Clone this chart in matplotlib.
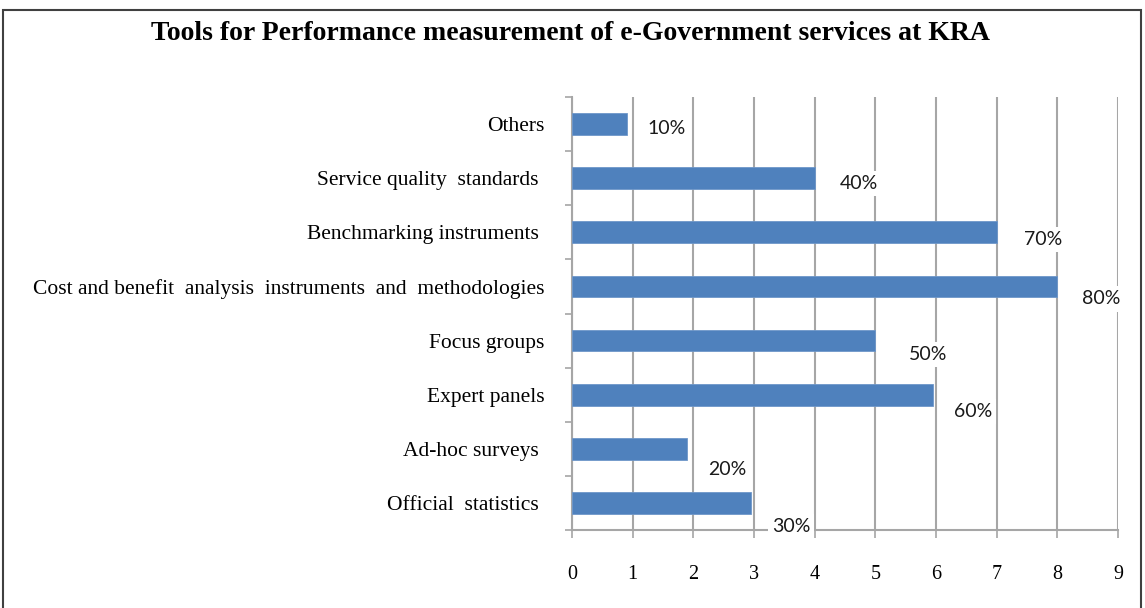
import numpy as np
import matplotlib.pyplot as plt
from matplotlib.patches import Rectangle

# bottom-to-top order
categories = ["Official  statistics ", "Ad-hoc surveys ", "Expert panels", "Focus groups",
              "Cost and benefit  analysis  instruments  and  methodologies",
              "Benchmarking instruments ", "Service quality  standards ", "Others"]
values = [2.95, 1.9, 5.95, 5.0, 8.0, 7.0, 4.0, 0.9]
labels = ["30%", "20%", "60%", "50%", "80%", "70%", "40%", "10%"]
title = "Tools for Performance measurement of e-Government services at KRA"

# label offsets (points) from the bar end, as placed in the original
label_dx = [15, 15, 15, 24, 18, 20, 18, 15]
label_dy = [-17, -15, -12, -10, -9, -5, -4, -3]

grey = "#a6a6a6"
bar_color = "#4f81bd"

fig = plt.figure(figsize=(11.45, 6.08), dpi=100)
ax = fig.add_axes([572 / 1145, 1 - 530 / 608, (1118 - 572) / 1145, (530 - 97) / 608])

y = np.arange(len(categories))
ax.barh(y, values, height=0.4, color=bar_color, edgecolor="#6f97c9", linewidth=0.6, zorder=3)

for yi, v, lab, dx, dy in zip(y, values, labels, label_dx, label_dy):
    ax.annotate(lab, (v, yi), xytext=(dx, dy), textcoords="offset points",
                ha="left", va="center", fontsize=14, family="Lato", color="#1a1a1a",
                bbox=dict(facecolor="white", edgecolor="none", pad=3),
                zorder=6, annotation_clip=False)

ax.set_xlim(0, 9)
ax.set_ylim(-0.5, len(categories) - 0.5)
ax.set_xticks(range(10))
ax.set_xticklabels([str(i) for i in range(10)], family="Liberation Serif", fontsize=14.5)
ax.set_yticks(y)
ax.set_yticklabels(categories, family="Liberation Serif", fontsize=15.5)
ax.set_yticks(np.arange(-0.5, len(categories), 1), minor=True)

ax.tick_params(axis="y", which="major", length=0, pad=20)
ax.tick_params(axis="y", which="minor", length=5, color=grey, width=1.2)
ax.tick_params(axis="x", length=6, color=grey, width=1.2, pad=19)

ax.xaxis.grid(True, color=grey, linewidth=1.5, zorder=1)
ax.set_axisbelow(True)
for s in ["top", "right"]:
    ax.spines[s].set_visible(False)
for s in ["left", "bottom"]:
    ax.spines[s].set_color(grey)
    ax.spines[s].set_linewidth(1.5)

fig.text(0.498, 1 - 33 / 608, title, ha="center", va="center",
         family="Liberation Serif", fontweight="bold", fontsize=20)

fig.patches.append(Rectangle((3 / 1145, -0.05), (1141 - 3) / 1145, 1 - 10 / 608 + 0.05,
                             transform=fig.transFigure, fill=False,
                             edgecolor="#404040", linewidth=1.5))

fig.savefig("out.png", dpi=100)
